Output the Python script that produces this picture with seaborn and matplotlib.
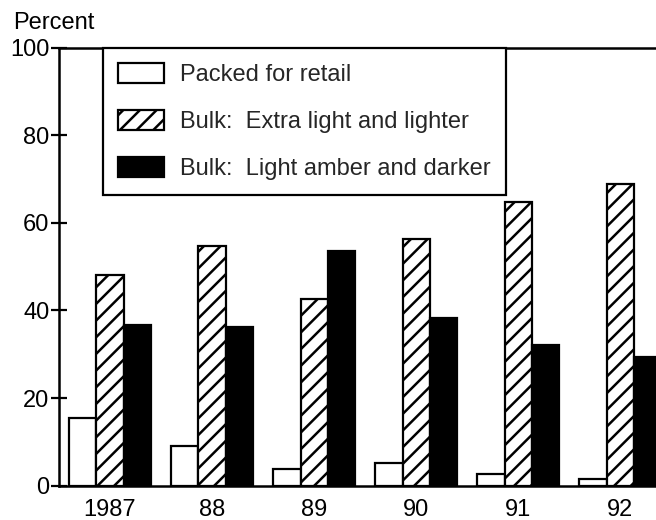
import matplotlib
matplotlib.use("Agg")
import matplotlib.pyplot as plt
import seaborn as sns
import pandas as pd

years = ["1987", "88", "89", "90", "91", "92"]
series = ["Packed for retail", "Bulk:  Extra light and lighter", "Bulk:  Light amber and darker"]
packed = [15.4, 9.0, 3.7, 5.1, 2.7, 1.6]
extra_light = [48.2, 54.7, 42.7, 56.4, 64.8, 68.9]
light_amber = [36.6, 36.2, 53.6, 38.3, 32.2, 29.4]
yticks = [0, 20, 40, 60, 80, 100]

rows = []
for s, vals in zip(series, [packed, extra_light, light_amber]):
    for y, v in zip(years, vals):
        rows.append({"year": y, "series": s, "value": v})
df = pd.DataFrame(rows)

sns.set_theme(style="white")
plt.rcParams["font.family"] = ["Liberation Sans", "DejaVu Sans"]
plt.rcParams["hatch.linewidth"] = 1.8
plt.rcParams["hatch.color"] = "black"

fig = plt.figure(figsize=(6.56, 5.2), dpi=100)
ax = fig.add_axes([59/656, 34.4/520, 1 - 59/656, (485.6 - 47.7)/520])

sns.barplot(data=df, x="year", y="value", hue="series", order=years, hue_order=series,
            palette=["white", "white", "black"], edgecolor="black", linewidth=1.6,
            width=0.8, gap=0, saturation=1, ax=ax, legend=False)

hatches = [None, "//", None]
for cont, h in zip(ax.containers, hatches):
    for p in cont:
        p.set_edgecolor("black")
        if h:
            p.set_hatch(h)

ax.set_xlim(-0.5, 5.35)
ax.set_ylim(0, 100)
ax.set_yticks(yticks)
ax.set_yticklabels([str(t) for t in yticks])
ax.set_xlabel("")
ax.set_ylabel("")

for side in ["left", "top", "bottom"]:
    ax.spines[side].set_visible(True)
    ax.spines[side].set_color("black")
    ax.spines[side].set_linewidth(1.8)
ax.spines["right"].set_visible(False)

ax.tick_params(axis="y", direction="inout", length=12, width=1.6, colors="black",
               labelsize=17, pad=1, left=True)
ax.tick_params(axis="x", length=0, labelsize=17, pad=10, colors="black")

leg = ax.legend(ax.containers, series, loc="upper left", bbox_to_anchor=(44/597, 1.0),
                borderaxespad=0, fontsize=17, frameon=True, fancybox=False, shadow=False,
                handlelength=1.95, handleheight=0.9, handletextpad=0.65, borderpad=0.65,
                labelspacing=1.02)
leg.get_frame().set_edgecolor("black")
leg.get_frame().set_linewidth(1.6)
leg.get_frame().set_alpha(1)

fig.text(13/656, 1 - 23/520, "Percent", fontsize=17, ha="left", va="center", color="black")

fig.savefig("out.png", dpi=100)
